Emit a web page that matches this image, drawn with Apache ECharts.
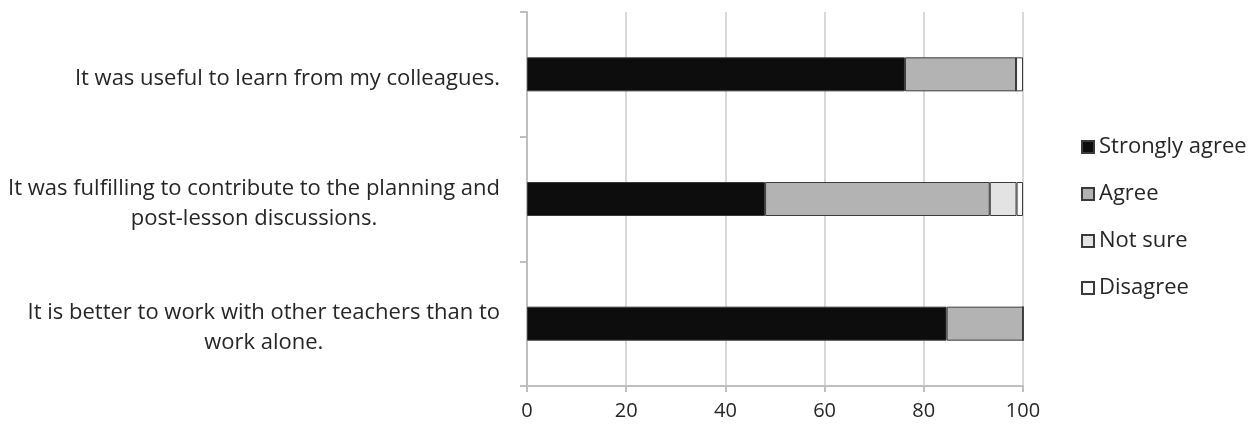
<!DOCTYPE html>
<html>
<head>
<meta charset="utf-8">
<script src="https://cdn.jsdelivr.net/npm/echarts@6/dist/echarts.min.js"></script>
<style>
  html, body { margin: 0; padding: 0; background: #ffffff; }
  #chart { width: 1260px; height: 424px; }
</style>
</head>
<body>
<div id="chart"></div>
<script>
// Survey statements (top to bottom)
const statements = [
  'It was useful to learn from my colleagues.',
  'It was fulfilling to contribute to the planning and\npost-lesson discussions.',
  'It is better to work with other teachers than to\nwork alone.'
];

// Response shares in percent, one array per answer
const stronglyAgree = [76.2, 48.0, 84.6];
const agree = [22.4, 45.3, 15.4];
const notSure = [0, 5.4, 0];
const disagree = [1.4, 1.3, 0];

const xTicks = { min: 0, max: 100, interval: 20 };

const answerNames = ['Strongly agree', 'Agree', 'Not sure', 'Disagree'];
const answerValues = [stronglyAgree, agree, notSure, disagree];
const answerColors = ['#0d0d0d', '#b3b3b3', '#e3e3e3', '#fbfbfb'];

const font = '"Open Sans", "DejaVu Sans", sans-serif';
const textColor = '#262626';

const chart = echarts.init(document.getElementById('chart'), null, { renderer: 'canvas' });

chart.setOption({
  animation: false,
  backgroundColor: '#ffffff',
  grid: { left: 527, right: 237, top: 12, bottom: 38, containLabel: false },
  legend: {
    orient: 'vertical',
    left: 1076,
    top: 130,
    itemWidth: 12,
    itemHeight: 12,
    itemGap: 23,
    icon: 'rect',
    data: answerNames,
    textStyle: { fontFamily: font, fontSize: 22, color: textColor, lineHeight: 24 }
  },
  xAxis: {
    type: 'value',
    min: xTicks.min,
    max: xTicks.max,
    interval: xTicks.interval,
    axisLine: { show: true, lineStyle: { color: '#bfbfbf', width: 2 } },
    axisTick: { show: true, length: 6, lineStyle: { color: '#bfbfbf', width: 2 } },
    splitLine: { show: true, lineStyle: { color: '#d9d9d9', width: 2 } },
    axisLabel: { fontFamily: font, fontSize: 20, color: textColor, margin: 15 }
  },
  yAxis: {
    type: 'category',
    inverse: true,
    data: statements,
    axisLine: { show: true, lineStyle: { color: '#bfbfbf', width: 2 } },
    axisTick: { show: true, length: 7, lineStyle: { color: '#bfbfbf', width: 2 } },
    axisLabel: {
      fontFamily: font,
      fontSize: 22,
      color: textColor,
      margin: 27,
      align: 'right',
      lineHeight: 30,
      padding: [9, 0, 0, 0],
      formatter: function (v) {
        return v.split('\n').map(function (line) { return '{c|' + line + '}'; }).join('\n');
      },
      rich: {
        c: { align: 'center', fontFamily: font, fontSize: 22, color: textColor, lineHeight: 30 }
      }
    }
  },
  series: answerNames.map(function (name, i) {
    return {
      name: name,
      type: 'bar',
      stack: 'total',
      barWidth: 34,
      data: answerValues[i],
      itemStyle: { color: answerColors[i], borderColor: '#3a3a3a', borderWidth: 1 }
    };
  })
});
</script>
</body>
</html>
